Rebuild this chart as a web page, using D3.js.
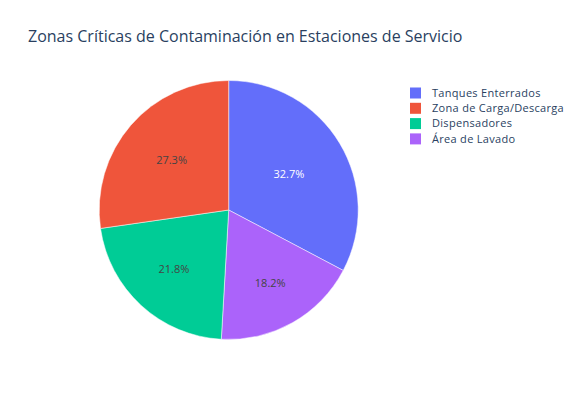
<!DOCTYPE html>
<html>
<head>
<meta charset="utf-8">
<script src="https://cdn.jsdelivr.net/npm/d3@7"></script>
<style>
  body { margin: 0; background: #fff; }
  text { font-family: "Open Sans", verdana, arial, sans-serif; }
</style>
</head>
<body>
<div id="chart"></div>
<script>
// slices in drawing order (clockwise from 12 o'clock)
var labels = ["Tanques Enterrados", "Área de Lavado", "Dispensadores", "Zona de Carga/Descarga"];
var values = [18, 10, 12, 15];
var colors = ["#636efa", "#ab63fa", "#00cc96", "#EF553B"];
var textColors = ["#ffffff", "#444444", "#444444", "#444444"];
// legend order as shown
var legendOrder = ["Tanques Enterrados", "Zona de Carga/Descarga", "Dispensadores", "Área de Lavado"];

var W = 567, H = 405,
    cx = 228.7, cy = 210, r = 129.5;

var svg = d3.select("#chart").append("svg").attr("width", W).attr("height", H);

svg.append("text")
  .attr("x", 28).attr("y", 42)
  .attr("font-size", 16)
  .attr("fill", "#2a3f5f")
  .text("Zonas Críticas de Contaminación en Estaciones de Servicio");

var total = d3.sum(values);
var pie = d3.pie().sort(null).value(function(d) { return d; });
var arcs = pie(values);
var arc = d3.arc().innerRadius(0).outerRadius(r);

var g = svg.append("g").attr("transform", "translate(" + cx + "," + cy + ")");

g.selectAll("path")
  .data(arcs)
  .enter().append("path")
    .attr("d", arc)
    .attr("fill", function(d, i) { return colors[i]; })
    .attr("stroke", "#ffffff")
    .attr("stroke-width", 0.5);

g.selectAll("text.pct")
  .data(arcs)
  .enter().append("text")
    .attr("class", "pct")
    .attr("transform", function(d) {
      var mid = (d.startAngle + d.endAngle) / 2;
      var span = (d.endAngle - d.startAngle) * 180 / Math.PI;
      var rr = r * (0.79 - 0.0021 * span);
      return "translate(" + (Math.sin(mid) * rr) + "," + (-Math.cos(mid) * rr) + ")";
    })
    .attr("text-anchor", "middle")
    .attr("dy", "0.35em")
    .attr("font-size", 11)
    .attr("fill", function(d, i) { return textColors[i]; })
    .text(function(d) { return (d.value / total * 100).toFixed(1) + "%"; });

var legend = svg.append("g")
  .selectAll("g")
  .data(legendOrder)
  .enter().append("g")
    .attr("transform", function(d, i) { return "translate(410," + (93 + i * 15.3) + ")"; });

legend.append("rect")
  .attr("x", 0).attr("y", -5.5)
  .attr("width", 11).attr("height", 11)
  .attr("fill", function(d) { return colors[labels.indexOf(d)]; });

legend.append("text")
  .attr("x", 22)
  .attr("dy", "0.35em")
  .attr("font-size", 11)
  .attr("letter-spacing", 0.3)
  .attr("fill", "#2a3f5f")
  .text(function(d) { return d; });
</script>
</body>
</html>
